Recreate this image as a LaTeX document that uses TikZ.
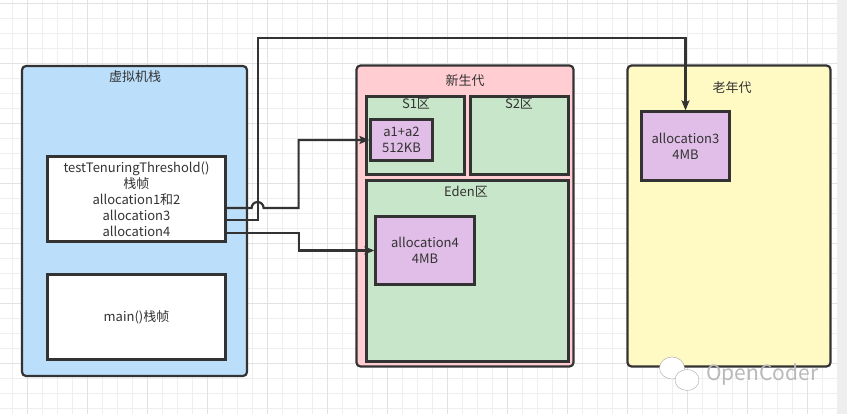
\documentclass[tikz,border=0pt]{standalone}
\usepackage{fontspec}
\setmainfont{Noto Sans CJK SC}
\usetikzlibrary{arrows.meta,positioning,shapes.geometric}
\definecolor{lineGray}{RGB}{51,51,51}
\definecolor{stackBlue}{RGB}{187,222,251}
\definecolor{youngPink}{RGB}{255,205,210}
\definecolor{areaGreen}{RGB}{200,230,201}
\definecolor{objPurple}{RGB}{225,190,231}
\definecolor{oldYellow}{RGB}{255,249,196}
\definecolor{gridMinor}{RGB}{238,238,238}
\definecolor{gridMajor}{RGB}{226,226,226}

\begin{document}
\begin{tikzpicture}[x=1pt,y=-1pt,font=\fontsize{13}{16}\selectfont,
        >={Stealth[length=10pt,width=8pt,inset=2pt]},
        gl/.style={draw=gridMinor,line width=0.8pt},
        gm/.style={draw=gridMajor,line width=0.8pt},
        area/.style={draw=lineGray,line width=2.2pt,rounded corners=4pt,inner sep=0pt},
        sub/.style={draw=lineGray,line width=2.2pt,inner sep=0pt,text=lineGray,align=center},
        ttl/.style={text=lineGray,inner sep=0pt},
        ar/.style={->,draw=lineGray,line width=2.2pt}]
        % canvas and grid
        \useasboundingbox (0,0) rectangle (847,414);
        \fill[white] (0,0) rectangle (837,414);
        \fill[gridMinor] (837,0) rectangle (847,414);
        \foreach \gx in {0,...,55} \draw[gl] (12.3+15*\gx,0) -- (12.3+15*\gx,414);
        \foreach \gy in {0,...,27} \draw[gl] (0,3.3+15*\gy) -- (837,3.3+15*\gy);
        \foreach \gx in {0,...,13} \draw[gm] (27.3+60*\gx,0) -- (27.3+60*\gx,414);
        \foreach \gy in {0,...,6} \draw[gm] (0,3.3+60*\gy) -- (837,3.3+60*\gy);

        % JVM stack
        \node[area,fill=stackBlue,minimum width=225pt,minimum height=310pt] (vmstack) at (134.5,221) {};
        \node[ttl] (vmtitle) at (135,77) {虚拟机栈};
        \node[sub,fill=white,minimum width=178pt,minimum height=85pt] (frame) at (136.5,199)
            {testTenuringThreshold()\\栈帧\\allocation1和2\\allocation3\\allocation4};
        \node[sub,fill=white,minimum width=178pt,minimum height=85pt] (mainframe) at (136.5,317) {main()栈帧};

        % young generation
        \node[area,fill=youngPink,minimum width=217pt,minimum height=301pt] (young) at (465,216) {};
        \node[ttl] (youngtitle) at (465,81) {新生代};
        \node[sub,fill=areaGreen,minimum width=98pt,minimum height=78pt] (s1) at (415.5,135.5) {};
        \node[ttl] (s1title) at (416,104) {S1区};
        \node[sub,fill=areaGreen,minimum width=98pt,minimum height=78pt] (s2) at (519.5,135.5) {};
        \node[ttl] (s2title) at (519,104) {S2区};
        \node[sub,fill=areaGreen,minimum width=202pt,minimum height=181pt] (eden) at (467.5,271) {};
        \node[ttl] (edentitle) at (466,192) {Eden区};
        \node[sub,fill=objPurple,minimum width=62pt,minimum height=41pt] (a12) at (401.5,140) {a1+a2\\512KB};
        \node[sub,fill=objPurple,minimum width=99pt,minimum height=68pt] (alloc4) at (425,250.5) {allocation4\\4MB};

        % old generation
        \node[area,fill=oldYellow,minimum width=203pt,minimum height=301pt] (old) at (729,216) {};
        \node[ttl] (oldtitle) at (732,88) {老年代};
        \node[sub,fill=objPurple,minimum width=88pt,minimum height=69pt] (alloc3) at (685.5,146) {allocation3\\4MB};

        % references
        \coordinate (o12) at ([yshift=-9pt]frame.east);
        \coordinate (o3) at ([yshift=-21pt]frame.east);
        \coordinate (o4) at ([yshift=-34pt]frame.east);
        \draw[ar] (o3) -- ++(31,0) -- ++(0,-182) -| (alloc3.north);
        \draw[ar] (o12) -- ++(25,0) arc[start angle=180,end angle=360,radius=6] -- ++(35,0) |- (a12.west);
        \draw[ar] (o4) -- ++(72,0) |- (alloc4.west);

        % watermark
        \node[draw=gray!70,fill=white,ellipse,minimum width=25pt,minimum height=22pt,inner sep=0pt] (wxback) at (672,368) {};
        \node[draw=gray!70,fill=white,ellipse,minimum width=24pt,minimum height=21pt,inner sep=0pt] (wxfront) at (687,380) {};
        \node[text=gray!55,font=\fontsize{21}{24}\selectfont,anchor=west,inner sep=0pt] (mark) at (706,375) {OpenCoder};
      \end{tikzpicture}
\end{document}
